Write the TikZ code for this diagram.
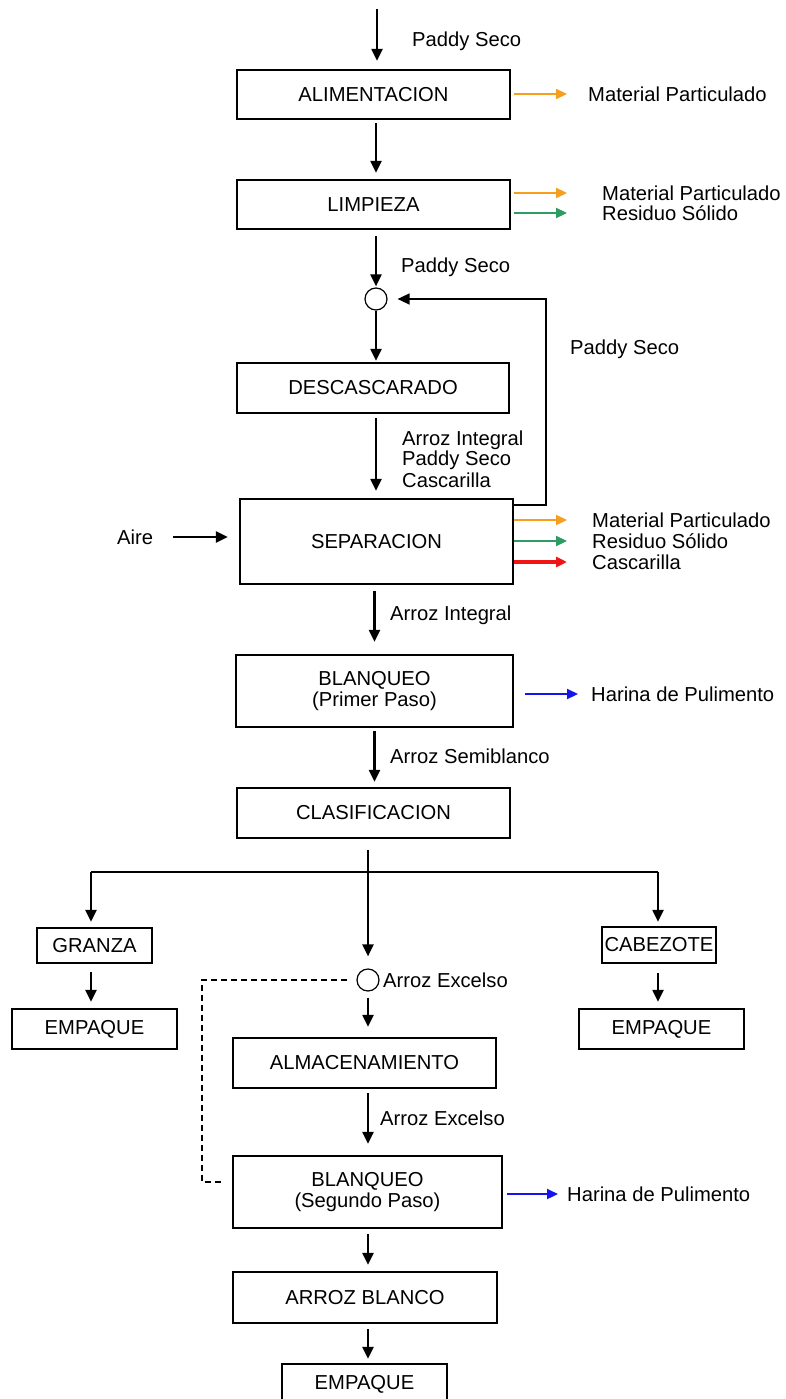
\documentclass[tikz,border=0pt]{standalone}
\usepackage{fontspec}
\setmainfont{Liberation Sans}
\usetikzlibrary{arrows.meta,calc}
\definecolor{orng}{RGB}{247,158,28}
\definecolor{grn}{RGB}{46,155,100}
\definecolor{rd}{RGB}{240,20,20}
\definecolor{blu}{RGB}{20,20,235}
\begin{document}
\begin{tikzpicture}[x=1pt,y=-1pt,
  every node/.style={font=\fontsize{20.2}{21}\selectfont},
  box/.style={draw,line width=2.3pt,inner sep=0pt,align=center},
  lab/.style={anchor=west,inner sep=0pt,text height=14.5pt,text depth=0pt},
  arr/.style={line width=2.2pt,-{Triangle[length=12pt,width=11pt]}},
  carr/.style={line width=2.2pt,-{Triangle[length=11pt,width=10pt]}},
  thinln/.style={line width=1.3pt},
  jn/.style={circle,draw,line width=1.2pt,minimum size=22pt,inner sep=0pt},
  dashln/.style={line width=2pt,dash pattern=on 6pt off 4pt},
]
\useasboundingbox (0,0) rectangle (786,1399);

% boxes
\node[box,minimum width=273pt,minimum height=49pt] (alim) at (373.5,94.5) {ALIMENTACION};
\node[box,minimum width=273pt,minimum height=49pt] (limp) at (373.5,204.5) {LIMPIEZA};
\node[box,minimum width=272pt,minimum height=50pt] (desc) at (373,388) {DESCASCARADO};
\node[box,minimum width=273pt,minimum height=85pt] (sep) at (376.5,541.5) {SEPARACION};
\node[box,minimum width=277pt,minimum height=72pt] (blan1) at (374.5,691) {BLANQUEO\\(Primer Paso)};
\node[box,minimum width=273pt,minimum height=50pt] (clas) at (373.5,813) {CLASIFICACION};
\node[box,minimum width=115pt,minimum height=35pt] (granza) at (94.5,945.5) {GRANZA};
\node[box,minimum width=165pt,minimum height=40pt] (emp1) at (94.5,1029) {EMPAQUE};
\node[box,minimum width=114pt,minimum height=36pt] (cab) at (659,945) {CABEZOTE};
\node[box,minimum width=165pt,minimum height=40pt] (emp2) at (661.5,1029) {EMPAQUE};
\node[box,minimum width=263pt,minimum height=50pt] (almac) at (364.5,1063) {ALMACENAMIENTO};
\node[box,minimum width=269pt,minimum height=72pt] (blan2) at (367.5,1192) {BLANQUEO\\(Segundo Paso)};
\node[box,minimum width=264pt,minimum height=51pt] (arroz) at (365,1297.5) {ARROZ BLANCO};
\node[box,minimum width=165pt,minimum height=40pt] (emp3) at (364.5,1384) {EMPAQUE};

% junctions
\node[jn] (j1) at (376,299) {};
\node[jn] (j2) at (368,980) {};

% labels
\node[lab] (ps1) at (412,39) {Paddy Seco};
\node[lab] (mp1) at (588,94) {Material Particulado};
\node[lab] (lp1) at (602,193) {Material Particulado};
\node[lab] (lp2) at (602,213) {Residuo Sólido};
\node[lab] (ps2) at (401,265) {Paddy Seco};
\node[lab] (ps3) at (570,347) {Paddy Seco};
\node[lab] (di1) at (402,438) {Arroz Integral};
\node[lab] (di2) at (402,458) {Paddy Seco};
\node[lab] (di3) at (402,480) {Cascarilla};
\node[lab] (sp1) at (592,520) {Material Particulado};
\node[lab] (sp2) at (592,541) {Residuo Sólido};
\node[lab] (sp3) at (592,562) {Cascarilla};
\node[lab] (aire) at (117,537) {Aire};
\node[lab] (ai2) at (390,613) {Arroz Integral};
\node[lab] (hp1) at (591,694) {Harina de Pulimento};
\node[lab] (asb) at (390,756) {Arroz Semiblanco};
\node[lab] (ae1) at (383,980) {Arroz Excelso};
\node[lab] (ae2) at (380,1118) {Arroz Excelso};
\node[lab] (hp2) at (567,1194) {Harina de Pulimento};

% coordinates
\coordinate (in) at (377,9);
\coordinate (busL) at (91,872);
\coordinate (busR) at (658,872);
\coordinate (busM) at (368,872);
\coordinate (fbx) at (546,505);
\coordinate (dk) at (202,1182);

% main column
\draw[arr,shorten >=8pt] (in) -- (alim.north -| in);
\draw[arr,shorten <=3pt,shorten >=6pt] (alim.south -| j1) -- (limp.north -| j1);
\draw[arr,shorten <=6pt,shorten >=1pt] (limp.south -| j1) -- (j1);
\draw[arr,shorten >=1pt] (j1) -- (desc.north -| j1);
\draw[arr,shorten <=4pt,shorten >=7pt] (desc.south -| j1) -- (sep.north -| j1);
\draw[arr,shorten <=6pt,shorten >=12pt] (sep.south -| blan1.north) -- (blan1.north);
\draw[arr,shorten <=3pt,shorten >=5pt] (blan1.south) -- (clas.north -| blan1.south);

% feedback
\draw[line width=1.5pt,-{Triangle[length=12pt,width=11pt]},shorten >=10pt] (sep.east |- fbx) -- (fbx) |- (j1);

% air
\draw[arr,shorten <=20pt,shorten >=11pt] (aire.east) -- (sep.west |- aire.east);

% branching
\draw[thinln] ($(clas.south -| j2)+(0,11)$) -- ($(busM)+(0,10)$);
\draw[thinln] (busL) -- (busR);
\draw[arr,shorten >=12pt] ($(busM)+(0,10)$) -- (j2);
\draw[arr,shorten >=5pt] (busL) -- (granza.north -| busL);
\draw[arr,shorten >=4pt] (busR) -- (cab.north -| busR);
\draw[arr,shorten <=8pt,shorten >=6pt] (granza.south -| busL) -- (emp1.north -| busL);
\draw[arr,shorten <=9pt,shorten >=6pt] (cab.south -| busR) -- (emp2.north -| busR);

% lower column
\draw[arr,shorten <=6pt,shorten >=10pt] (j2) -- (almac.north -| j2);
\draw[arr,shorten <=4pt,shorten >=11pt] (almac.south -| j2) -- (blan2.north -| j2);
\draw[arr,shorten <=5pt,shorten >=6pt] (blan2.south -| j2) -- (arroz.north -| j2);
\draw[arr,shorten <=5pt,shorten >=4pt] (arroz.south -| j2) -- (emp3.north -| j2);

% dashed return
\draw[dashln] ($(j2.west)+(-9,0)$) -| (dk) -- ($(blan2.west |- dk)+(-8,0)$);

% coloured outputs
\draw[carr,orng,shorten <=3pt,shorten >=21pt] (alim.east |- mp1.west) -- (mp1.west);
\draw[carr,orng,shorten <=3pt,shorten >=35pt] (limp.east |- lp1.west) -- (lp1.west);
\draw[carr,grn,shorten <=3pt,shorten >=35pt] (limp.east |- lp2.west) -- (lp2.west);
\draw[carr,orng,shorten >=25pt] (sep.east |- sp1.west) -- (sp1.west);
\draw[carr,grn,shorten >=25pt] (sep.east |- sp2.west) -- (sp2.west);
\draw[carr,rd,line width=3.2pt,shorten >=25pt] (sep.east |- sp3.west) -- (sp3.west);
\draw[carr,blu,shorten <=11pt,shorten >=13pt] (blan1.east |- hp1.west) -- (hp1.west);
\draw[carr,blu,shorten <=4pt,shorten >=9pt] (blan2.east |- hp2.west) -- (hp2.west);
\end{tikzpicture}
\end{document}
